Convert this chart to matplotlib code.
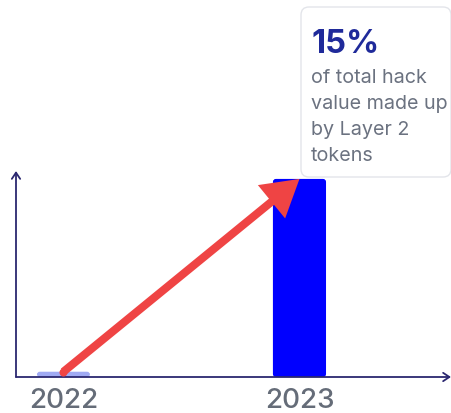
import matplotlib
matplotlib.use("Agg")
import matplotlib.pyplot as plt
from matplotlib.patches import FancyBboxPatch

# Data
years = ["2022", "2023"]
values = [0.4, 15.0]
bar_colors = ["#a0aaf3", "#0000ff"]
headline = "15%"
caption_lines = ["of total hack", "value made up", "by Layer 2", "tokens"]

W, H, DPI = 452, 414, 100
fig = plt.figure(figsize=(W / DPI, H / DPI), dpi=DPI)
fig.patch.set_facecolor("white")

# Axes placed in pixel terms
ax_l, ax_r, ax_b, ax_t = 16, 451, 378, 172
ax = fig.add_axes([ax_l / W, (H - ax_b) / H, (ax_r - ax_l) / W, (ax_b - ax_t) / H])
ax.set_facecolor("none")

x = list(range(len(years)))
bar_w = 0.225
ax.set_xlim(-0.201, 1.642)
ax.set_ylim(0, 15.6)

bars = ax.bar(x, values, width=bar_w, color=bar_colors)

# Replace plain rectangles with softly rounded ones
x_per_px = (1.642 + 0.201) / (ax_r - ax_l)
y_per_px = 15.6 / (ax_b - ax_t)
aspect = y_per_px / x_per_px
for rect in bars:
    rect.set_visible(False)
    fb = FancyBboxPatch((rect.get_x(), rect.get_y()), rect.get_width(), rect.get_height(),
                        boxstyle=f"round,pad=0,rounding_size={3 * x_per_px}",
                        mutation_aspect=aspect, facecolor=rect.get_facecolor(),
                        edgecolor="none", zorder=2)
    ax.add_patch(fb)

# Spines replaced by arrowed axes
for s in ax.spines.values():
    s.set_visible(False)
axis_col = "#2b2770"
arrow_kw = dict(arrowstyle="->,head_length=0.45,head_width=0.3", color=axis_col, lw=1.3,
                shrinkA=0, shrinkB=0)
ax.annotate("", xy=(1, 0), xytext=(0, 0), xycoords="axes fraction", arrowprops=arrow_kw,
            annotation_clip=False, zorder=3)
ax.annotate("", xy=(0, 1), xytext=(0, 0), xycoords="axes fraction", arrowprops=arrow_kw,
            annotation_clip=False, zorder=3)

ax.set_xticks(x)
ax.set_xticklabels(years, fontsize=20, color="#656c78", fontweight="medium",
                   family=["Inter", "DejaVu Sans"])
ax.tick_params(axis="x", length=0, pad=7.5)
ax.set_yticks([])

# Trend arrow from 2022 to 2023
red = "#ef4444"
ax.annotate("", xy=(x[1], values[1]), xytext=(x[0], values[0]),
            arrowprops=dict(arrowstyle="simple,head_length=1.3,head_width=1.55,tail_width=0.29",
                            mutation_scale=20, color=red, lw=0, shrinkA=0, shrinkB=0),
            zorder=4, annotation_clip=False)
ax.plot([x[0]], [values[0]], marker="o", markersize=5.8, color=red, markeredgewidth=0,
        zorder=4, clip_on=False)

# Callout card
bx0, by0, bx1, by1 = 301, 8, 451, 178
card = FancyBboxPatch((bx0 / W, 1 - by1 / H), (bx1 - bx0) / W, (by1 - by0) / H,
                      boxstyle=f"round,pad=0,rounding_size={8 / W}",
                      mutation_aspect=W / H, transform=fig.transFigure,
                      facecolor="white", edgecolor="#e3e5ea", lw=1.0, zorder=1)
fig.add_artist(card)

fig.text(312 / W, 1 - 53 / H, headline, fontsize=23.5, fontweight="bold", color="#1f2a9a",
         family=["Inter", "DejaVu Sans"], va="baseline", ha="left")
for i, line in enumerate(caption_lines):
    fig.text(311 / W, 1 - (83 + 26 * i) / H, line, fontsize=14.2, color="#6b7280",
             family=["Inter", "DejaVu Sans"], va="baseline", ha="left")

fig.savefig("out.png", dpi=DPI, facecolor="white")
